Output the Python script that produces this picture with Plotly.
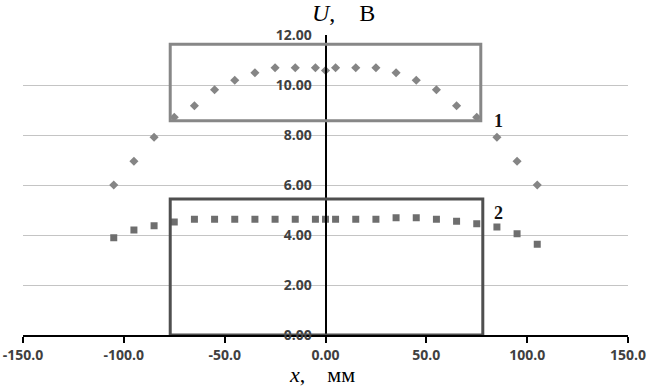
import plotly.graph_objects as go

# ---- data ----
x_pos = [-105, -95, -85, -75, -65, -55, -45, -35, -25, -15, -5, 0,
         5, 15, 25, 35, 45, 55, 65, 75, 85, 95, 105]
u_series1 = [6.00, 6.95, 7.91, 8.71, 9.17, 9.81, 10.19, 10.49, 10.69, 10.69, 10.69, 10.58,
             10.69, 10.69, 10.69, 10.49, 10.19, 9.81, 9.17, 8.71, 7.91, 6.95, 6.00]
u_series2 = [3.89, 4.20, 4.37, 4.52, 4.63, 4.63, 4.63, 4.63, 4.63, 4.63, 4.63, 4.63,
             4.63, 4.63, 4.63, 4.69, 4.69, 4.63, 4.55, 4.45, 4.32, 4.05, 3.63]

x_ticks = [-150, -100, -50, 0, 50, 100, 150]
x_ticktext = ["-150.0", "-100.0", "-50.0", "0.00", "50.0", "100.0", "150.0"]
y_ticks = [0, 2, 4, 6, 8, 10, 12]
y_ticktext = ["0.00", "2.00", "4.00", "6.00", "8.00", "10.00", "12.00"]

# frames (x0, x1, y0, y1)
frame1 = [-77, 77, 8.57, 11.63]
frame2 = [-77, 78, 0.0, 5.44]

# series labels (x, y, text)
label1 = [85.8, 8.57, "1"]
label2 = [85.8, 4.89, "2"]

fig = go.Figure()

fig.add_trace(go.Scatter(x=x_pos, y=u_series1, mode="markers",
                         marker=dict(symbol="diamond", size=7, color="#858585"),
                         showlegend=False))
fig.add_trace(go.Scatter(x=x_pos, y=u_series2, mode="markers",
                         marker=dict(symbol="square", size=7, color="#6e6e6e"),
                         showlegend=False))

fig.add_shape(type="rect", xref="x", yref="y", x0=frame1[0], x1=frame1[1],
              y0=frame1[2], y1=frame1[3], line=dict(color="#878787", width=3))
fig.add_shape(type="rect", xref="x", yref="y", x0=frame2[0], x1=frame2[1],
              y0=frame2[2], y1=frame2[3], line=dict(color="#4f4f4f", width=3))

serif = "Liberation Serif, Times New Roman, serif"
for lab in (label1, label2):
    fig.add_annotation(x=lab[0], y=lab[1], text="<b>" + lab[2] + "</b>", showarrow=False,
                       xref="x", yref="y", font=dict(family=serif, size=18, color="#111"))

fig.add_annotation(xref="paper", yref="paper", x=0.530, y=1.0, yshift=37, yanchor="top",
                   text="<i>U</i>,\u00a0\u00a0\u00a0\u00a0В", showarrow=False,
                   font=dict(family=serif, size=24, color="#000"))
fig.add_annotation(xref="paper", yref="paper", x=0.494, y=0, yshift=-54, yanchor="bottom",
                   text="<i>x</i>,\u00a0\u00a0\u00a0\u00a0мм", showarrow=False,
                   font=dict(family=serif, size=22, color="#000"))

tickfont = dict(family="Open Sans, Noto Sans, sans-serif", size=14, color="#404040", weight="bold")

fig.update_xaxes(range=[-150, 150], tickvals=x_ticks, ticktext=x_ticktext,
                 showgrid=False, zeroline=False, showline=True, linecolor="#000", linewidth=2,
                 ticks="outside", ticklen=6, tickwidth=2, tickcolor="#000",
                 tickfont=tickfont, automargin=False, ticklabeloverflow="allow")
fig.update_yaxes(range=[0, 12], tickvals=y_ticks, ticktext=y_ticktext,
                 anchor="free", position=0.5, side="left",
                 showgrid=True, gridcolor="#c4c4c4", gridwidth=1, zeroline=False,
                 showline=True, linecolor="#000", linewidth=2, ticks="",
                 ticklabelstandoff=10, tickfont=tickfont, automargin=False,
                 ticklabeloverflow="allow")

fig.update_layout(width=655, height=389, margin=dict(l=23, r=27, t=35, b=54),
                  plot_bgcolor="white", paper_bgcolor="white")

fig.write_html("out.html", config={"displayModeBar": False},
               post_script="document.body.style.margin='0';")
